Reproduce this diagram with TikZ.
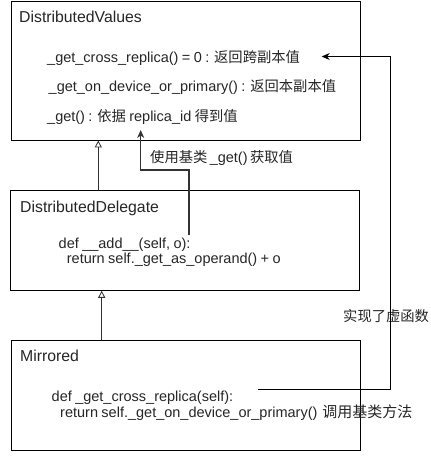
\documentclass[tikz,border=0pt]{standalone}
\usepackage{fontspec}
\setmainfont{Liberation Sans}[WordSpace=0.85]
\newfontfamily\cjk{Noto Sans CJK SC}
\usetikzlibrary{arrows.meta}
\newcommand\zh[1]{{\fontsize{14.3}{16}\cjk #1}}
\definecolor{txt}{gray}{0.15}
\definecolor{lnc}{gray}{0.2}
\tikzset{
  classbox/.style={draw=black, line width=0.9pt, minimum width=349pt, inner sep=0pt},
  ttl/.style={anchor=base west, inner sep=0pt, text=txt, font=\fontsize{15.8}{19}\selectfont},
  body/.style={anchor=base west, inner sep=0pt, text=txt, font=\fontsize{14.5}{17}\selectfont},
  inh/.style={draw=lnc, line width=1.1pt, -{Triangle[open,length=7pt,width=7pt,line width=0.8pt]}},
  use/.style={draw=lnc, line width=1.1pt, -{Stealth[length=8pt,width=7pt,inset=2.5pt]}},
}
\begin{document}
\begin{tikzpicture}[x=1pt,y=-1pt]
\useasboundingbox (0,0) rectangle (431,459);
\fill[white] (0,0) rectangle (431,459);
% boxes
\node[classbox, minimum height=139pt] (dv) at (185.5,70.5) {};
\node[classbox, minimum height=100pt] (dd) at (184.5,240.3) {};
\node[classbox, minimum height=109.5pt] (mr) at (185.5,395.3) {};
% texts box 1
\node[ttl] (t1) at (19,22) {DistributedValues};
\node[body] (l1) at (47,62) {\_get\_cross\_replica() = 0 : \zh{返回跨副本值}};
\node[body] (l2) at (48.5,91) {\_get\_on\_device\_or\_primary() : \zh{返回本副本值}};
\node[body] (l3) at (47,121) {\_get() : \zh{依据} replica\_id \zh{得到值}};
% box 2
\node[ttl] (t2) at (20,212) {DistributedDelegate};
\node[body] (c1) at (58.5,248) {def \_\_add\_\_(self, o):};
\node[body] (c2) at (66.7,263.5) {return self.\_get\_as\_operand() + o};
% box 3
\node[ttl] (t3) at (20,361) {Mirrored};
\node[body] (m1) at (51.5,401) {def \_get\_cross\_replica(self):};
\node[body] (m2) at (60,417) {return self.\_get\_on\_device\_or\_primary()\hspace{5pt}{\fontsize{15}{16}\cjk 调用基类方法}};
% labels
\node[anchor=base west, inner sep=0pt, text=txt] (lab1) at (150,162) {\zh{使用基类} {\fontsize{14.5}{17}\selectfont \_get()} \zh{获取值}};
\node[anchor=base west, inner sep=0pt, text=txt] (lab2) at (343,321) {\zh{实现了虚函数}};
% coordinates
\coordinate (ix1) at (98.3,0);
\coordinate (ix2) at (101.7,0);
\coordinate (u0) at (189,235);
\coordinate (u1) at (140.7,170);
\coordinate (u2) at (140.7,130);
\coordinate (r0) at (258.3,389);
\coordinate (r1) at (390,56.5);
\coordinate (r2) at (321.7,56.5);
% connectors
\draw[inh] (dd.north -| ix1) -- (dv.south -| ix1);
\draw[inh] (mr.north -| ix2) -- (dd.south -| ix2);
\draw[use] (u0) |- (u1) -- (u2);
\draw[-{Stealth[length=8pt,width=7pt,inset=2.5pt]}, line width=0.9pt] (r0) -| (r1) -- (r2);
\end{tikzpicture}
\end{document}
